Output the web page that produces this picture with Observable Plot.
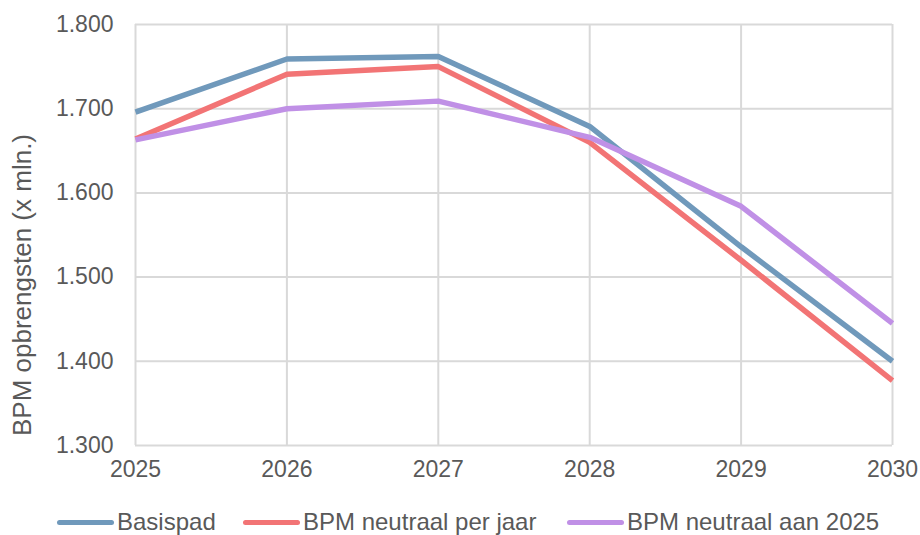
<!DOCTYPE html>
<html>
<head>
<meta charset="utf-8">
<script src="https://cdn.jsdelivr.net/npm/d3@7"></script>
<script src="https://cdn.jsdelivr.net/npm/@observablehq/plot@0.6"></script>
<style>
  html, body { margin: 0; padding: 0; background: #fff; }
  body { width: 920px; height: 535px; overflow: hidden; font-family: "Liberation Sans", Arial, sans-serif; }
  #legend { position: relative; height: 45px; font-size: 24px; color: #595959; }
  .item { position: absolute; top: 18px; display: flex; align-items: center; white-space: nowrap; }
  .sw { width: 57px; height: 5px; border-radius: 3px; margin-right: 3px; }
</style>
</head>
<body>
<div id="chart"></div>
<div id="legend"></div>
<script>
const years = [2025, 2026, 2027, 2028, 2029, 2030];
const seriesNames = ["Basispad", "BPM neutraal per jaar", "BPM neutraal aan 2025"];
const basispad = [1696, 1759, 1762, 1679, 1536, 1400];
const neutraalPerJaar = [1664, 1741, 1750, 1660, 1520, 1377];
const neutraalAan2025 = [1663, 1700, 1709, 1666, 1584, 1445];
const colors = ["#7099bb", "#f27475", "#c090e6"];
const yTicks = [1300, 1400, 1500, 1600, 1700, 1800];
const yLabel = "BPM opbrengsten (x mln.)";

const allSeries = [basispad, neutraalPerJaar, neutraalAan2025];
const data = [];
allSeries.forEach((vals, i) => vals.forEach((v, j) => data.push({series: seriesNames[i], year: years[j], value: v})));

const nl = d3.formatLocale({decimal: ",", thousands: ".", grouping: [3], currency: ["€", ""]});
const fmt = nl.format(",.0f");

const plot = Plot.plot({
  width: 920,
  height: 490,
  marginLeft: 135,
  marginRight: 28,
  marginTop: 24,
  marginBottom: 45,
  style: {fontFamily: "Liberation Sans, Arial, sans-serif", fontSize: "23px", color: "#595959", background: "#fff"},
  x: {type: "linear", domain: [2025, 2030], ticks: years, tickFormat: d => String(d), tickSize: 0, tickPadding: 20, label: null},
  y: {domain: [1300, 1800], ticks: yTicks, tickFormat: fmt, tickSize: 0, tickPadding: 22, label: null},
  color: {domain: seriesNames, range: colors},
  marks: [
    Plot.gridX(years, {stroke: "#d9d9d9", strokeOpacity: 1, strokeWidth: 2}),
    Plot.gridY(yTicks, {stroke: "#d9d9d9", strokeOpacity: 1, strokeWidth: 2}),
    Plot.axisX({ticks: years, tickFormat: d => String(d), tickSize: 0, tickPadding: 15, fill: "#595959"}),
    Plot.axisY({ticks: yTicks, tickFormat: fmt, tickSize: 0, tickPadding: 22, fill: "#595959"}),
    Plot.line(data, {x: "year", y: "value", z: "series", stroke: "series", strokeWidth: 5.5, strokeLinejoin: "round", strokeLinecap: "butt"})
  ]
});
document.getElementById("chart").appendChild(plot);

// y-axis title
d3.select(plot).append("text")
  .attr("transform", "translate(31,285) rotate(-90)")
  .attr("text-anchor", "middle")
  .attr("fill", "#595959")
  .style("font-size", "26px")
  .text(yLabel);

// legend
const legendPos = [57, 243, 567];
const legend = document.getElementById("legend");
seriesNames.forEach((name, i) => {
  const it = document.createElement("div");
  it.className = "item";
  it.style.left = legendPos[i] + "px";
  const sw = document.createElement("div");
  sw.className = "sw";
  sw.style.background = colors[i];
  const t = document.createElement("span");
  t.textContent = name;
  it.appendChild(sw); it.appendChild(t);
  legend.appendChild(it);
});
</script>
</body>
</html>
